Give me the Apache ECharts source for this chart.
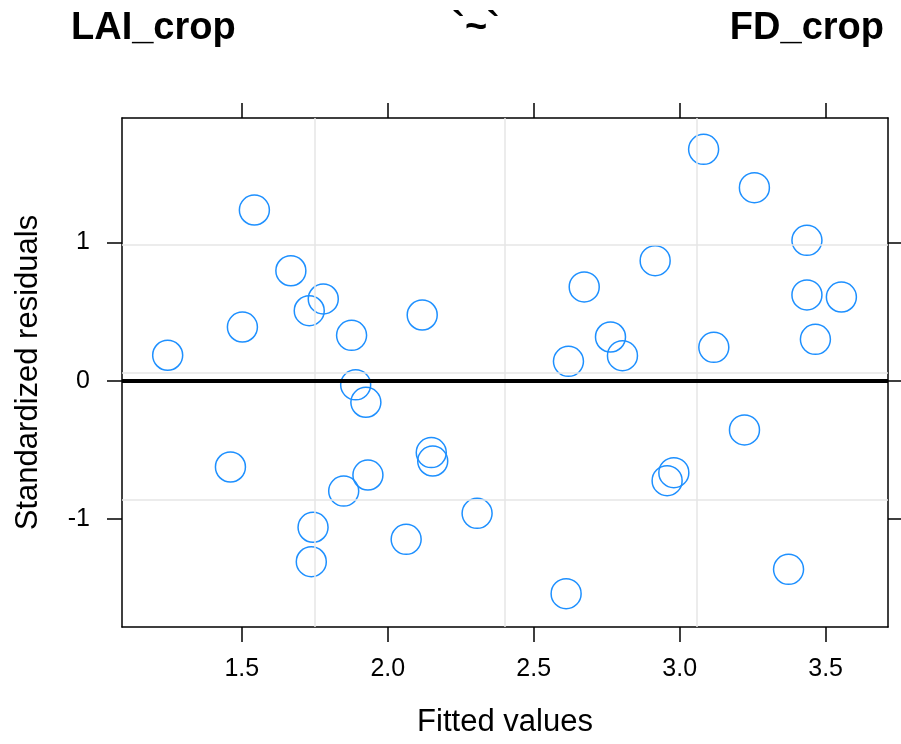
<!DOCTYPE html>
<html>
<head>
<meta charset="utf-8">
<script src="https://cdn.jsdelivr.net/npm/echarts@6/dist/echarts.min.js"></script>
<style>
html,body{margin:0;padding:0;background:#fff;}
#chart{width:901px;height:744px;}
</style>
</head>
<body>
<div id="chart"></div>
<script>
// ---- data ----
const fitted = [1.246, 1.461, 1.502, 1.543, 1.668, 1.731, 1.779, 1.738, 1.744, 1.849,
  1.876, 1.890, 1.925, 1.932, 2.063, 2.118, 2.149, 2.154, 2.306, 2.611,
  2.619, 2.673, 2.763, 2.804, 2.916, 2.957, 2.980, 3.082, 3.117, 3.222,
  3.256, 3.373, 3.436, 3.436, 3.465, 3.554];
const resid = [0.184, -0.624, 0.388, 1.234, 0.795, 0.506, 0.591, -1.309, -1.060, -0.798,
  0.328, -0.030, -0.156, -0.682, -1.147, 0.475, -0.520, -0.581, -0.959, -1.540,
  0.140, 0.678, 0.316, 0.181, 0.868, -0.723, -0.665, 1.673, 0.241, -0.356,
  1.396, -1.364, 1.015, 0.620, 0.299, 0.605];
const xTicks = [1.5, 2.0, 2.5, 3.0, 3.5];
const yTicks = [-1, 0, 1];
const titleLeft = 'LAI_crop';
const titleMid = '`~`';
const titleRight = 'FD_crop';
const xName = 'Fitted values';
const yName = 'Standardized residuals';
const xRange = [1.0895, 3.7137];
const yRange = [-1.781, 1.8995];

// ---- build ----
const pts = fitted.map((x, i) => [x, resid[i]]);
const xGrid = [1, 2, 3].map(k => xRange[0] + (xRange[1] - xRange[0]) * k / 4);
const yGrid = [1, 2, 3].map(k => yRange[0] + (yRange[1] - yRange[0]) * k / 4);
const font = 'Liberation Sans, Arial, sans-serif';
const lineCol = '#000';

function xAx(pos, labels) {
  return {
    type: 'value', position: pos, min: xRange[0], max: xRange[1],
    axisLine: {show: true, onZero: false, lineStyle: {color: lineCol, width: 1.5}},
    axisTick: {show: true, inside: false, length: 15, customValues: xTicks, lineStyle: {color: lineCol, width: 1.5}},
    axisLabel: {show: labels, customValues: xTicks, formatter: v => v.toFixed(1), color: '#000', fontFamily: font, fontSize: 25, margin: 30},
    splitLine: {show: false},
    name: labels ? xName : '', nameLocation: 'middle', nameGap: 80,
    nameTextStyle: {color: '#000', fontFamily: font, fontSize: 31}
  };
}
function yAx(pos, labels) {
  return {
    type: 'value', position: pos, min: yRange[0], max: yRange[1],
    axisLine: {show: true, onZero: false, lineStyle: {color: lineCol, width: 1.5}},
    axisTick: {show: true, inside: false, length: 15, customValues: yTicks, lineStyle: {color: lineCol, width: 1.5}},
    axisLabel: {show: labels, customValues: yTicks, formatter: v => String(v), color: '#000', fontFamily: font, fontSize: 25, margin: 32},
    splitLine: {show: false},
    name: labels ? yName : '', nameLocation: 'middle', nameGap: 78,
    nameTextStyle: {color: '#000', fontFamily: font, fontSize: 31}
  };
}

const chart = echarts.init(document.getElementById('chart'), null, {renderer: 'canvas'});
chart.setOption({
  animation: false,
  backgroundColor: '#fff',
  grid: {left: 122, top: 118, right: 13, bottom: 117, containLabel: false},
  xAxis: [xAx('bottom', true), xAx('top', false)],
  yAxis: [yAx('left', true), yAx('right', false)],
  graphic: [
    {type: 'text', left: 71, top: 10, style: {text: titleLeft, font: 'bold 38px ' + font, fill: '#000'}},
    {type: 'text', x: 476, y: 10, style: {text: titleMid, font: 'bold 38px ' + font, fill: '#000', textAlign: 'center'}},
    {type: 'text', x: 884, y: 10, style: {text: titleRight, font: 'bold 38px ' + font, fill: '#000', textAlign: 'right'}}
  ],
  series: [
    {
      type: 'scatter', data: [], z: 1, silent: true,
      markLine: {
        silent: true, symbol: 'none', label: {show: false},
        lineStyle: {color: '#e6e6e6', width: 1.5, type: 'solid'},
        data: xGrid.map(v => ({xAxis: v})).concat(yGrid.map(v => ({yAxis: v})))
      }
    },
    {
      type: 'scatter', data: pts, z: 2, symbol: 'circle', symbolSize: 30,
      itemStyle: {color: 'rgba(0,0,0,0)', borderColor: '#1E90FF', borderWidth: 1.5, opacity: 1}
    },
    {
      type: 'scatter', data: [], z: 3, silent: true,
      markLine: {
        silent: true, symbol: 'none', label: {show: false},
        lineStyle: {color: '#000', width: 4, type: 'solid'},
        data: [{yAxis: 0}]
      }
    }
  ]
});
</script>
</body>
</html>
